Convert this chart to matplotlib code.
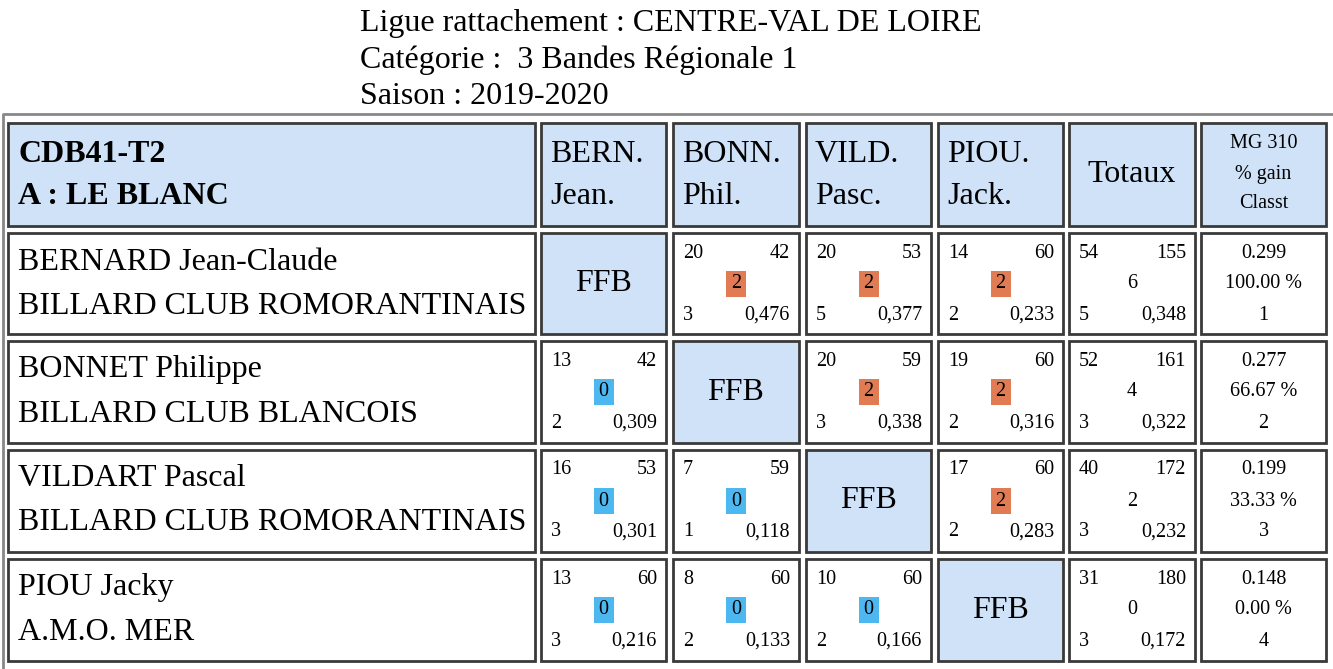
import matplotlib
matplotlib.use("Agg")
import matplotlib.pyplot as plt
from matplotlib.patches import Rectangle

title_lines = ["Ligue rattachement : CENTRE-VAL DE LOIRE", "Catégorie :  3 Bandes Régionale 1", "Saison : 2019-2020"]
team = ["CDB41-T2", "A : LE BLANC"]
players = ["BERNARD Jean-Claude", "BONNET Philippe", "VILDART Pascal", "PIOU Jacky"]
clubs = ["BILLARD CLUB ROMORANTINAIS", "BILLARD CLUB BLANCOIS", "BILLARD CLUB ROMORANTINAIS", "A.M.O. MER"]
abbr = [("BERN.", "Jean."), ("BONN.", "Phil."), ("VILD.", "Pasc."), ("PIOU.", "Jack.")]
points = [[None, 20, 20, 14], [13, None, 20, 19], [16, 7, None, 17], [13, 8, 10, None]]
reprises = [[None, 42, 53, 60], [42, None, 59, 60], [53, 59, None, 60], [60, 60, 60, None]]
match_pts = [[None, 2, 2, 2], [0, None, 2, 2], [0, 0, None, 2], [0, 0, 0, None]]
series = [[None, 3, 5, 2], [2, None, 3, 2], [3, 1, None, 2], [3, 2, 2, None]]
moyenne = [[None, "0,476", "0,377", "0,233"], ["0,309", None, "0,338", "0,316"],
           ["0,301", "0,118", None, "0,283"], ["0,216", "0,133", "0,166", None]]
tot_points = [54, 52, 40, 31]
tot_rep = [155, 161, 172, 180]
tot_mp = [6, 4, 2, 0]
tot_ser = [5, 3, 3, 3]
tot_moy = ["0,348", "0,322", "0,232", "0,172"]
mg = ["0.299", "0.277", "0.199", "0.148"]
gain = ["100.00 %", "66.67 %", "33.33 %", "0.00 %"]
classt = [1, 2, 3, 4]

HB = "#cfe2f8"; OR = "#e07b54"; BL = "#4db8f0"; BD = "#3a3a3a"
BIG = 23; SM = 14.5
plt.rcParams["font.family"] = "Liberation Serif"
fig = plt.figure(figsize=(13.33, 6.69), dpi=100)
ax = fig.add_axes([0, 0, 1, 1]); ax.set_xlim(0, 1333); ax.set_ylim(669, 0); ax.axis("off")

for i, t in enumerate(title_lines):
    ax.text(360, 23 + 37 * i, t, fontsize=BIG, va="center", ha="left")
ax.plot([3, 3, 1333], [669, 114, 114], color="#888888", lw=2)

cols = [(8, 535), (541, 666), (673, 799), (806, 931), (938, 1063), (1069, 1195), (1201, 1326)]
rows = [(123, 226), (233, 334), (341, 443), (450, 552), (559, 661)]

def cell(c, r, fill):
    x0, x1 = cols[c]; y0, y1 = rows[r]
    ax.add_patch(Rectangle((x0, y0), x1 - x0, y1 - y0, facecolor=fill, edgecolor=BD, lw=2))
    return x0, x1, y0, y1

x0, x1, y0, y1 = cell(0, 0, HB)
ax.text(x0 + 10, y0 + 31, team[0], fontsize=BIG, weight="bold", va="center")
ax.text(x0 + 10, y0 + 73, team[1], fontsize=BIG, weight="bold", va="center")
for j in range(4):
    x0, x1, y0, y1 = cell(j + 1, 0, HB)
    ax.text(x0 + 9, y0 + 31, abbr[j][0], fontsize=BIG, va="center")
    ax.text(x0 + 9, y0 + 73, abbr[j][1], fontsize=BIG, va="center")
x0, x1, y0, y1 = cell(5, 0, HB)
ax.text((x0 + x1) / 2, (y0 + y1) / 2, "Totaux", fontsize=BIG, ha="center", va="center")
x0, x1, y0, y1 = cell(6, 0, HB)
for k, t in enumerate(["MG 310", "% gain", "Classt"]):
    ax.text((x0 + x1) / 2, y0 + 21 + 30 * k, t, fontsize=SM, ha="center", va="center")

def small(x0, x1, y0, tl, tr, mid, bl, br, badge=None):
    ax.text(x0 + 10, y0 + 20, str(tl), fontsize=SM, va="center")
    ax.text(x1 - 9, y0 + 20, str(tr), fontsize=SM, va="center", ha="right")
    xm = (x0 + x1) / 2; ym = y0 + 51
    if badge:
        ax.add_patch(Rectangle((xm - 10, ym - 13), 20, 26, facecolor=badge, edgecolor="none"))
    ax.text(xm, ym, str(mid), fontsize=SM, va="center", ha="center")
    ax.text(x0 + 10, y0 + 82, str(bl), fontsize=SM, va="center")
    ax.text(x1 - 9, y0 + 82, str(br), fontsize=SM, va="center", ha="right")

for i in range(4):
    x0, x1, y0, y1 = cell(0, i + 1, "white")
    ax.text(x0 + 10, y0 + 29, players[i], fontsize=BIG, va="center")
    ax.text(x0 + 10, y0 + 73, clubs[i], fontsize=BIG, va="center")
    for j in range(4):
        if i == j:
            x0, x1, y0, y1 = cell(j + 1, i + 1, HB)
            ax.text((x0 + x1) / 2, (y0 + y1) / 2, "FFB", fontsize=BIG, ha="center", va="center")
        else:
            x0, x1, y0, y1 = cell(j + 1, i + 1, "white")
            small(x0, x1, y0, points[i][j], reprises[i][j], match_pts[i][j], series[i][j], moyenne[i][j],
                  OR if match_pts[i][j] == 2 else BL)
    x0, x1, y0, y1 = cell(5, i + 1, "white")
    small(x0, x1, y0, tot_points[i], tot_rep[i], tot_mp[i], tot_ser[i], tot_moy[i])
    x0, x1, y0, y1 = cell(6, i + 1, "white")
    for k, t in enumerate([mg[i], gain[i], classt[i]]):
        ax.text((x0 + x1) / 2, y0 + 20 + 31 * k, str(t), fontsize=SM, ha="center", va="center")

fig.savefig("out.png", dpi=100)
